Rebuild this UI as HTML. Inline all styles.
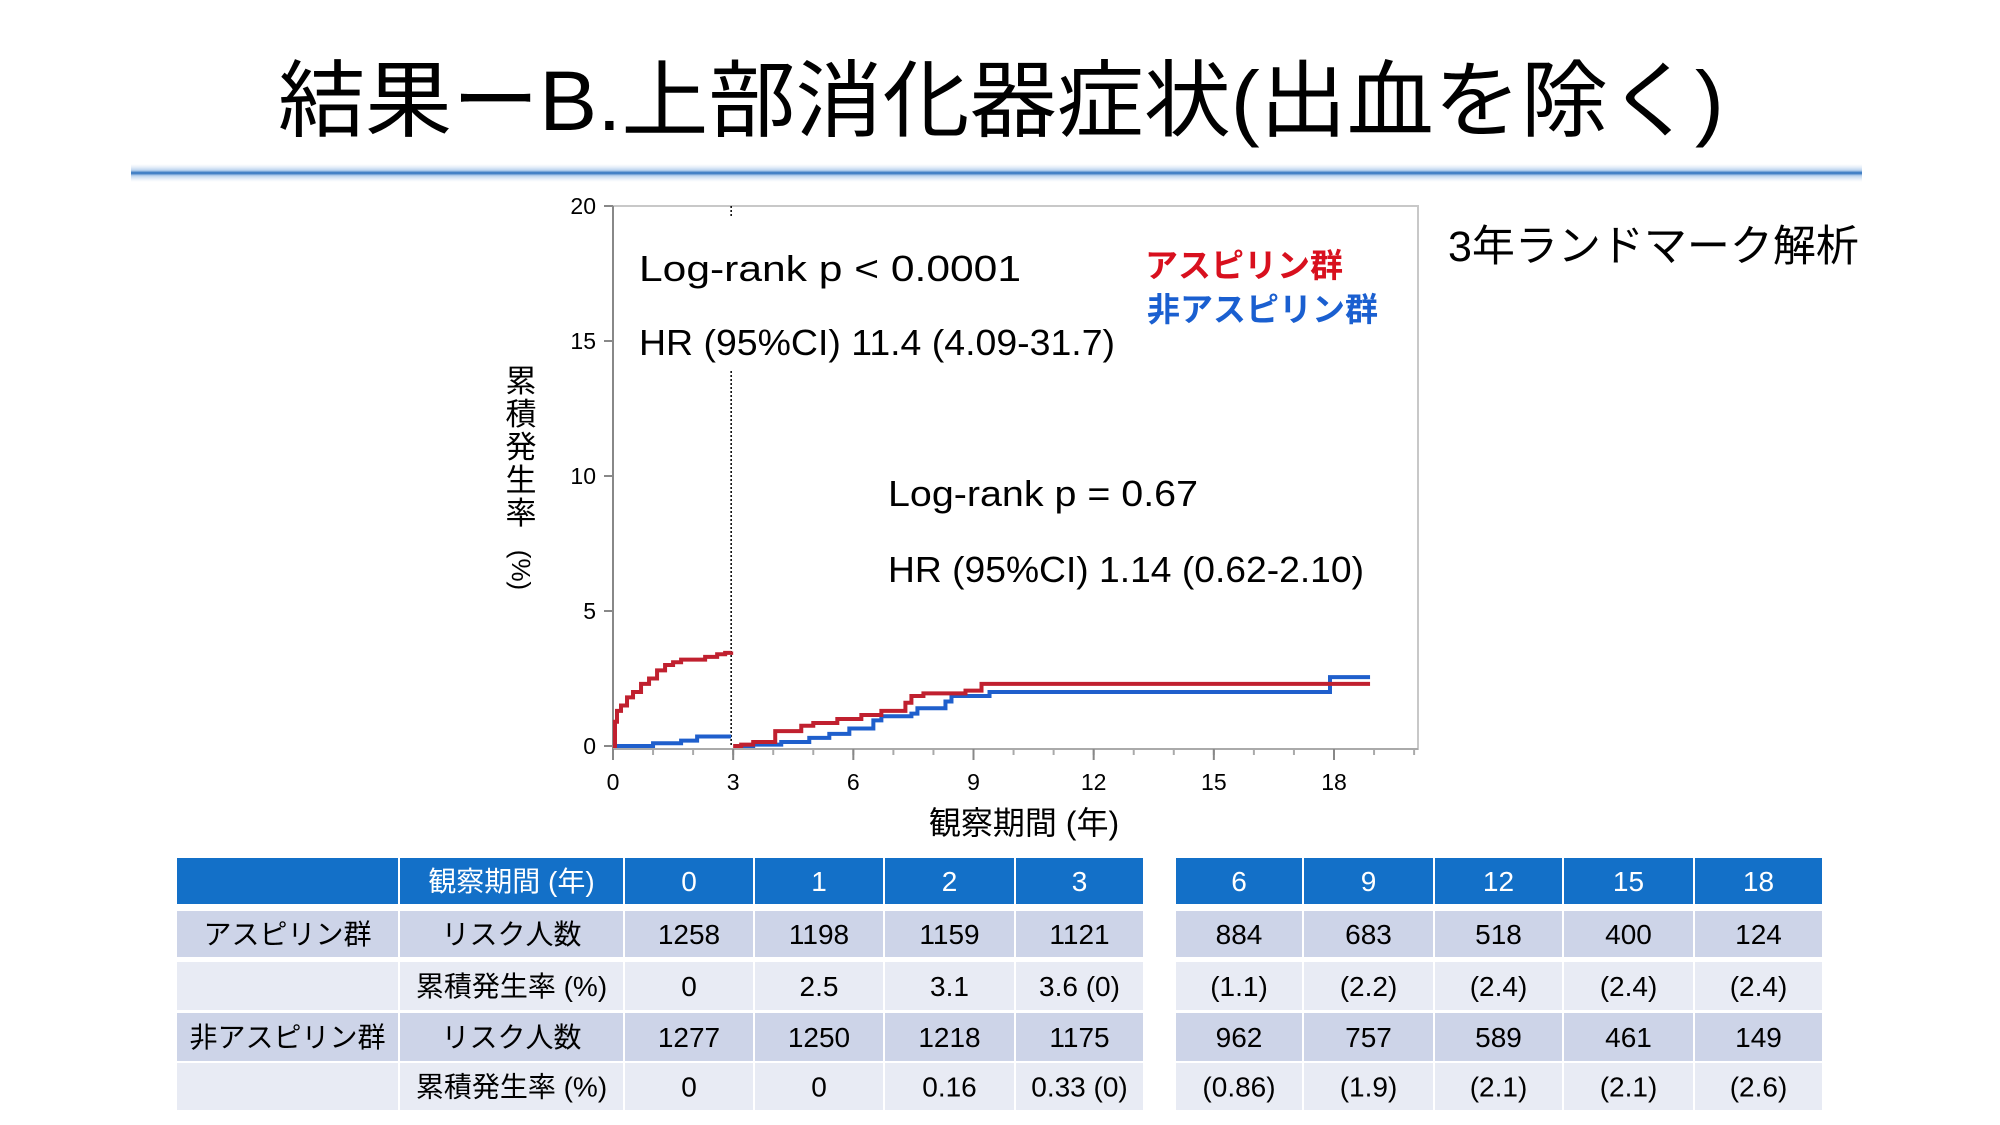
<!DOCTYPE html>
<html><head><meta charset="utf-8">
<style>
html,body{margin:0;padding:0;background:#fff;}
svg{display:block;}
text{font-family:"Liberation Sans","Noto Sans CJK JP",sans-serif;}
</style></head>
<body>
<svg id="root" width="2000" height="1125" viewBox="0 0 2000 1125" xmlns="http://www.w3.org/2000/svg">
<defs>
<linearGradient id="glow" x1="0" y1="0" x2="0" y2="1">
<stop offset="0" stop-color="#dce8f6" stop-opacity="0"/>
<stop offset="0.35" stop-color="#b9d2ee"/>
<stop offset="0.5" stop-color="#2a6fbd"/>
<stop offset="0.65" stop-color="#b9d2ee"/>
<stop offset="1" stop-color="#dce8f6" stop-opacity="0"/>
</linearGradient>
</defs>
<text x="1001" y="130" font-size="84" text-anchor="middle" textLength="1446" lengthAdjust="spacingAndGlyphs" fill="#000">結果ーB.上部消化器症状(出血を除く)</text>
<rect x="131" y="164" width="1731" height="18" fill="url(#glow)"/>
<text x="1448" y="261" font-size="43" fill="#000">3年ランドマーク解析</text>
<g id="chart"></g>
<g id="table"></g>
</svg>
<script>
// ---- chart data ----
const xTicks=[0,3,6,9,12,15,18];
const yTicks=[0,5,10,15,20];
const aspPreT=[0,0.05,0.1,0.2,0.35,0.5,0.7,0.9,1.1,1.3,1.5,1.7,2.1,2.3,2.6,2.8,2.95];
const aspPreY=[0,0.9,1.3,1.5,1.8,2.0,2.3,2.5,2.8,3.0,3.1,3.2,3.2,3.3,3.4,3.45,3.5];
const nonPreT=[0,1.0,1.7,2.1,2.95];
const nonPreY=[0,0.1,0.2,0.35,0.35];
const aspPostT=[3.0,3.2,3.5,4.05,4.7,5.0,5.6,6.2,6.7,7.3,7.45,7.75,8.8,9.2,18.9];
const aspPostY=[0,0.05,0.15,0.55,0.75,0.85,1.0,1.15,1.3,1.6,1.85,1.95,2.05,2.3,2.3];
const nonPostT=[3.05,3.5,4.2,4.9,5.4,5.9,6.5,6.7,7.45,7.6,8.3,8.45,9.4,17.9,18.9];
const nonPostY=[0,0.05,0.15,0.3,0.45,0.65,0.95,1.1,1.2,1.4,1.65,1.85,2.0,2.55,2.55];
// ---- table data ----
const leftCols=["0","1","2","3"];
const rightCols=["6","9","12","15","18"];
const aspRisk=["1258","1198","1159","1121","884","683","518","400","124"];
const aspCum=["0","2.5","3.1","3.6 (0)","(1.1)","(2.2)","(2.4)","(2.4)","(2.4)"];
const nonRisk=["1277","1250","1218","1175","962","757","589","461","149"];
const nonCum=["0","0","0.16","0.33 (0)","(0.86)","(1.9)","(2.1)","(2.1)","(2.6)"];

const NS="http://www.w3.org/2000/svg";
function mk(parent,tag,attrs,txt){const e=document.createElementNS(NS,tag);for(const k in attrs)e.setAttribute(k,attrs[k]);if(txt!==undefined)e.textContent=txt;parent.appendChild(e);return e;}
const X=v=>613+v*(1334-613)/18;
const Y=v=>746-v*(746-206)/20;
const chart=document.getElementById('chart');
// frame
let e=mk(chart,'rect',{x:613,y:206,width:805,height:543,fill:'none',stroke:'#c8c8c8','stroke-width':2});


e=mk(chart,'line',{x1:613,y1:206,x2:613,y2:749,stroke:'#888','stroke-width':2});


e=mk(chart,'line',{x1:613,y1:749,x2:1418,y2:749,stroke:'#aaa','stroke-width':2});


yTicks.forEach(t=>{
 mk(chart,'line',{x1:604,y1:Y(t),x2:613,y2:Y(t),stroke:'#888','stroke-width':2});
 e=mk(chart,'text',{x:596,y:Y(t)+8,'font-size':23,'text-anchor':'end',fill:'#000'},String(t));
 
 
});
for(let yr=0;yr<=20;yr++){
 mk(chart,'line',{x1:X(yr),y1:749,x2:X(yr),y2:755,stroke:'#aaa','stroke-width':2});
}
xTicks.forEach(t=>{
 mk(chart,'line',{x1:X(t),y1:749,x2:X(t),y2:760,stroke:'#888','stroke-width':2});
 e=mk(chart,'text',{x:X(t),y:790,'font-size':23,'text-anchor':'middle',fill:'#000'},String(t));
 
 
});
// landmark dotted line
e=mk(chart,'line',{x1:X(3)-2,y1:206,x2:X(3)-2,y2:217,stroke:'#000','stroke-width':1.5,'stroke-dasharray':'2,2'});


e=mk(chart,'line',{x1:X(3)-2,y1:371,x2:X(3)-2,y2:746,stroke:'#000','stroke-width':1.5,'stroke-dasharray':'2,2'});


function stepPath(ts,ys){let d='M'+X(ts[0])+','+Y(ys[0]);for(let i=1;i<ts.length;i++){d+=' H'+X(ts[i])+' V'+Y(ys[i]);}return d;}
e=mk(chart,'path',{d:stepPath(nonPreT,nonPreY),fill:'none',stroke:'#1f5fcc','stroke-width':4});


e=mk(chart,'path',{d:stepPath(aspPreT,aspPreY),fill:'none',stroke:'#c0202f','stroke-width':4});


e=mk(chart,'path',{d:stepPath(nonPostT,nonPostY),fill:'none',stroke:'#1f5fcc','stroke-width':4});


e=mk(chart,'path',{d:stepPath(aspPostT,aspPostY),fill:'none',stroke:'#c0202f','stroke-width':4});


// annotations
const ann=[[639,281,'Log-rank p < 0.0001',382,'logrank-pre'],[639,355,'HR (95%CI) 11.4 (4.09-31.7)',476,'hr-pre'],[888,506,'Log-rank p = 0.67',310,'logrank-post'],[888,582,'HR (95%CI) 1.14 (0.62-2.10)',476,'hr-post']];
ann.forEach(a=>{
 e=mk(chart,'text',{x:a[0],y:a[1],'font-size':36,fill:'#000',textLength:a[3],lengthAdjust:'spacingAndGlyphs'},a[2]);
 
 
});
e=mk(chart,'text',{x:1145,y:277,'font-size':33,'font-weight':'bold',fill:'#d8101e'},'アスピリン群');


e=mk(chart,'text',{x:1147,y:321,'font-size':33,'font-weight':'bold',fill:'#1a5fd0'},'非アスピリン群');


const yt=mk(chart,'g',{});


['累','積','発','生','率'].forEach((c,i)=>mk(yt,'text',{x:521,y:392+i*33,'font-size':31,'text-anchor':'middle',fill:'#000'},c));
mk(yt,'text',{x:0,y:0,'font-size':26,'text-anchor':'middle',fill:'#000',transform:'translate(512,570) rotate(90)'},'(%)');
e=mk(chart,'text',{x:1024,y:834,'font-size':32,'text-anchor':'middle',fill:'#000'},'観察期間 (年)');



// ---- table ----
const tbl=document.getElementById('table');
const lb=[176,399,624,754,884,1015,1144], rb=[1175,1303,1434,1563,1694,1823];
const rows=[[858,904],[911,957],[962,1010],[1013,1061],[1063,1110]];
const blue='#1370c8', dark='#cdd4e8', light='#e8ebf4';
function cell(x1,x2,r,fill,txt,color,name,size){
 const g=mk(tbl,'g',{});
 
 
 mk(g,'rect',{x:x1+1,y:r[0],width:x2-x1-2,height:r[1]-r[0],fill:fill});
 if(txt)mk(g,'text',{x:(x1+x2)/2,y:(r[0]+r[1])/2+10,'font-size':size||28,'text-anchor':'middle',fill:color},txt);
}
cell(lb[0],lb[1],rows[0],blue,'','#fff','header-blank');
cell(lb[1],lb[2],rows[0],blue,'観察期間 (年)','#fff','header-period');
leftCols.forEach((c,i)=>cell(lb[2+i],lb[3+i],rows[0],blue,c,'#fff','header-year-'+c));
rightCols.forEach((c,i)=>cell(rb[i],rb[i+1],rows[0],blue,c,'#fff','header-year-'+c));
const bodies=[['アスピリン群','リスク人数',aspRisk,dark,'aspirin-risk'],['','累積発生率 (%)',aspCum,light,'aspirin-cum'],['非アスピリン群','リスク人数',nonRisk,dark,'non-aspirin-risk'],['','累積発生率 (%)',nonCum,light,'non-aspirin-cum']];
bodies.forEach((b,ri)=>{
 const r=rows[ri+1];
 cell(lb[0],lb[1],r,b[3],b[0],'#000',b[4]+'-group');
 cell(lb[1],lb[2],r,b[3],b[1],'#000',b[4]+'-label');
 b[2].forEach((v,ci)=>{
  if(ci<4)cell(lb[2+ci],lb[3+ci],r,b[3],v,'#000',b[4]+'-cell');
  else cell(rb[ci-4],rb[ci-3],r,b[3],v,'#000',b[4]+'-cell');
 });
});
</script>
</body></html>
